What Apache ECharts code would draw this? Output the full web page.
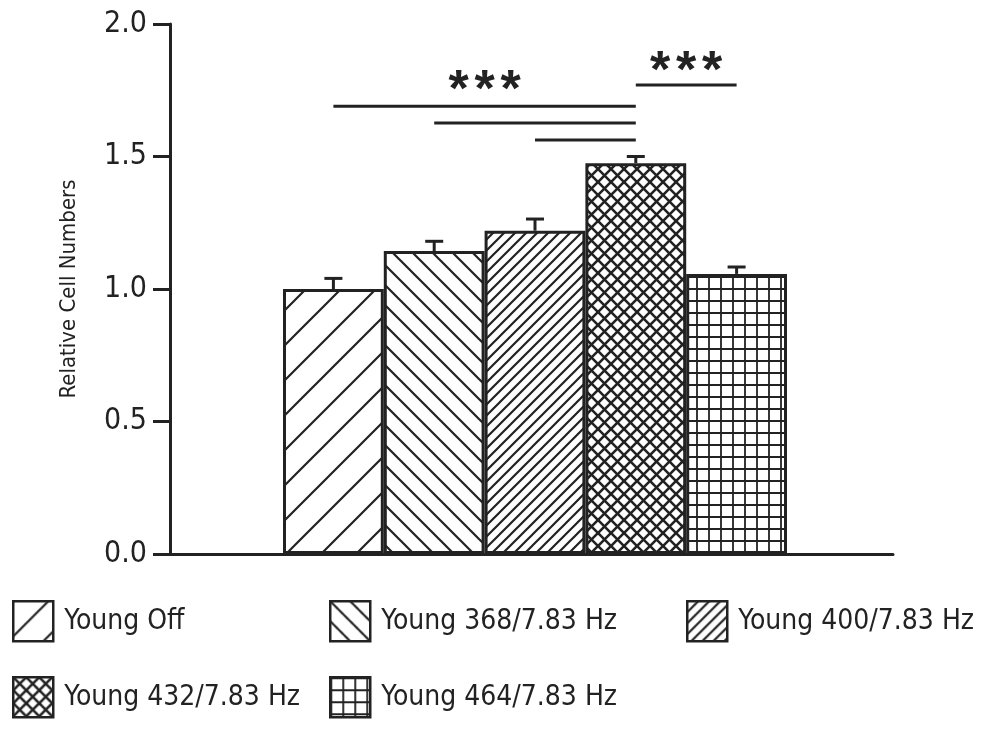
<!DOCTYPE html>
<html>
<head>
<meta charset="utf-8">
<script src="https://cdn.jsdelivr.net/npm/echarts@6/dist/echarts.min.js"></script>
<style>
  html, body { margin: 0; padding: 0; background: #fff; }
  #chart { width: 983px; height: 729px; }
</style>
</head>
<body>
<div id="chart"></div>
<script>
const categories = ['Young Off', 'Young 368/7.83 Hz', 'Young 400/7.83 Hz', 'Young 432/7.83 Hz', 'Young 464/7.83 Hz'];
const means = [1.00, 1.143, 1.22, 1.475, 1.057];
const errors = [0.04, 0.037, 0.044, 0.025, 0.026];
const yTicks = [0, 0.5, 1.0, 1.5, 2.0];
// significance bars: [from bar, to bar, height]
const sigLines = [[0, 3, 1.69], [1, 3, 1.626], [2, 3, 1.562], [3, 4, 1.77]];
// star labels, centred between two bars: [from bar, to bar, height]
const sigStars = [[0, 3, 1.743], [3, 4, 1.818]];
const starText = '***';

const ink = '#222';
const font = "'DejaVu Sans Condensed', 'Liberation Sans', sans-serif";

function makePattern(size, draw) {
    let c = document.createElement('canvas');
    c.width = size;
    c.height = size;
    let ctx = c.getContext('2d');
    ctx.fillStyle = '#fff';
    ctx.fillRect(0, 0, size, size);
    ctx.strokeStyle = ink;
    draw(ctx, size);
    return { image: c, repeat: 'repeat' };
}

function forward(ctx, s) {   // "/"
    ctx.beginPath();
    ctx.moveTo(-2, s + 2); ctx.lineTo(s + 2, -2);
    ctx.moveTo(-2, 2); ctx.lineTo(2, -2);
    ctx.moveTo(s - 2, s + 2); ctx.lineTo(s + 2, s - 2);
    ctx.stroke();
}
function backward(ctx, s) {  // "\"
    ctx.beginPath();
    ctx.moveTo(-2, -2); ctx.lineTo(s + 2, s + 2);
    ctx.moveTo(s - 2, -2); ctx.lineTo(s + 2, 2);
    ctx.moveTo(-2, s - 2); ctx.lineTo(2, s + 2);
    ctx.stroke();
}

const patterns = [
    makePattern(35, function (ctx, s) { ctx.lineWidth = 2.2; forward(ctx, s); }),
    makePattern(20, function (ctx, s) { ctx.lineWidth = 2.2; backward(ctx, s); }),
    makePattern(11, function (ctx, s) { ctx.lineWidth = 2.2; forward(ctx, s); }),
    makePattern(13, function (ctx, s) { ctx.lineWidth = 2.6; forward(ctx, s); backward(ctx, s); }),
    makePattern(12, function (ctx, s) {
        ctx.lineWidth = 1.8;
        ctx.beginPath();
        ctx.moveTo(1, 0); ctx.lineTo(1, s);
        ctx.moveTo(0, 1); ctx.lineTo(s, 1);
        ctx.stroke();
    })
];

const barSeries = categories.map(function (name, i) {
    return {
        name: name,
        type: 'bar',
        xAxisIndex: 1,
        yAxisIndex: 1,
        barGap: '-100%',
        barCategoryGap: '0%',
        itemStyle: { color: patterns[i], borderColor: ink, borderWidth: 3 },
        emphasis: { disabled: true },
        data: categories.map(function (c, j) { return j === i ? means[i] : '-'; })
    };
});

const errorSeries = {
    type: 'custom',
    xAxisIndex: 1,
    yAxisIndex: 1,
    z: 5,
    silent: true,
    data: means.map(function (m, i) { return [i, m, m + errors[i]]; }),
    encode: { x: 0, y: [1, 2] },
    renderItem: function (params, api) {
        let base = api.coord([api.value(0), api.value(1)]);
        let top = api.coord([api.value(0), api.value(2)]);
        let st = { stroke: ink, lineWidth: 3 };
        return {
            type: 'group',
            children: [
                { type: 'line', shape: { x1: base[0], y1: base[1], x2: top[0], y2: top[1] }, style: st },
                { type: 'line', shape: { x1: top[0] - 9, y1: top[1], x2: top[0] + 9, y2: top[1] }, style: st }
            ]
        };
    }
};

const sigSeries = {
    type: 'custom',
    xAxisIndex: 1,
    yAxisIndex: 1,
    z: 5,
    silent: true,
    data: sigLines,
    encode: { x: [0, 1], y: 2 },
    renderItem: function (params, api) {
        let p1 = api.coord([api.value(0), api.value(2)]);
        let p2 = api.coord([api.value(1), api.value(2)]);
        return {
            type: 'line',
            shape: { x1: p1[0], y1: p1[1], x2: p2[0], y2: p2[1] },
            style: { stroke: ink, lineWidth: 3 }
        };
    }
};

const starSeries = {
    type: 'custom',
    xAxisIndex: 1,
    yAxisIndex: 1,
    z: 5,
    silent: true,
    data: sigStars,
    encode: { x: [0, 1], y: 2 },
    renderItem: function (params, api) {
        let p1 = api.coord([api.value(0), api.value(2)]);
        let p2 = api.coord([api.value(1), api.value(2)]);
        let cx = (p1[0] + p2[0]) / 2;
        let step = 26;
        let n = starText.length;
        let kids = [];
        for (let k = 0; k < n; k++) {
            kids.push({
                type: 'text',
                x: cx + (k - (n - 1) / 2) * step,
                y: p1[1],
                style: {
                    text: starText[k],
                    fill: ink,
                    font: "bold 52px 'Liberation Sans', Arial, sans-serif",
                    textAlign: 'center',
                    textVerticalAlign: 'middle'
                }
            });
        }
        return { type: 'group', children: kids };
    }
};

const legendSlots = [[12, 600], [329, 600], [686, 600], [12, 676], [329, 676]];

let option = {
    backgroundColor: '#fff',
    animation: false,
    grid: [
        { left: 170, right: 90, top: 24, bottom: 175 },
        { left: 283, right: 196, top: 24, bottom: 175 }
    ],
    xAxis: [
        {
            gridIndex: 0, type: 'value', min: 0, max: 1,
            axisLine: { lineStyle: { color: ink, width: 3 } },
            axisTick: { show: false }, axisLabel: { show: false }, splitLine: { show: false }
        },
        {
            gridIndex: 1, type: 'category', data: categories,
            axisLine: { show: false }, axisTick: { show: false }, axisLabel: { show: false }
        }
    ],
    yAxis: [
        {
            gridIndex: 0, type: 'value',
            min: yTicks[0], max: yTicks[yTicks.length - 1], interval: yTicks[1] - yTicks[0],
            name: 'Relative Cell Numbers',
            nameLocation: 'middle',
            nameGap: 90,
            nameTextStyle: { fontSize: 22, fontFamily: font, color: ink },
            axisLine: { show: true, lineStyle: { color: ink, width: 3 } },
            axisTick: { show: true, length: 17, lineStyle: { color: ink, width: 3 } },
            axisLabel: {
                fontSize: 30, fontFamily: font, color: ink, margin: 23,
                formatter: function (v) { return v.toFixed(1); }
            },
            splitLine: { show: false }
        },
        {
            gridIndex: 1, type: 'value',
            min: yTicks[0], max: yTicks[yTicks.length - 1],
            axisLine: { show: false }, axisTick: { show: false }, axisLabel: { show: false },
            splitLine: { show: false }
        }
    ],
    legend: categories.map(function (name, i) {
        return {
            data: [name],
            left: legendSlots[i][0],
            top: legendSlots[i][1],
            icon: 'rect',
            itemWidth: 40,
            itemHeight: 40,
            padding: 0,
            selectedMode: false,
            itemStyle: { borderColor: ink, borderWidth: 2.5 },
            textStyle: { fontSize: 28, fontFamily: font, color: ink, padding: [0, 0, 0, 6] }
        };
    }),
    series: barSeries.concat([errorSeries, sigSeries, starSeries])
};

let chart = echarts.init(document.getElementById('chart'));
chart.setOption(option);
</script>
</body>
</html>
